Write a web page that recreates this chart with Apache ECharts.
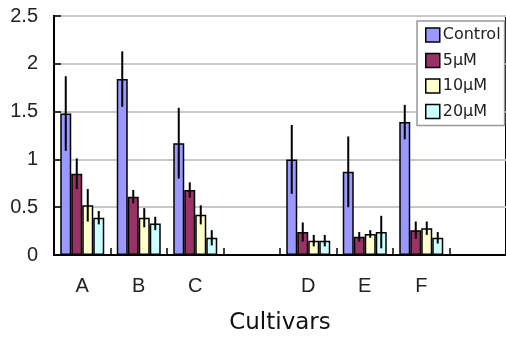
<!DOCTYPE html>
<html>
<head>
<meta charset="utf-8">
<script src="https://cdn.jsdelivr.net/npm/echarts@6/dist/echarts.min.js"></script>
<style>html,body{margin:0;padding:0;background:#fff;}#c{width:506px;height:340px;}</style>
</head>
<body>
<div id="c"></div>
<script>
const categories = ['A', 'B', 'C', '', 'D', 'E', 'F', ''];
const seriesNames = ['Control', '5\u03bcM', '10\u03bcM', '20\u03bcM'];
const control    = [1.48, 1.84, 1.17, null, 1.00, 0.87, 1.39, null];
const controlErr = [0.39, 0.29, 0.37, null, 0.36, 0.37, 0.18, null];
const uM5        = [0.85, 0.61, 0.68, null, 0.24, 0.19, 0.26, null];
const uM5Err     = [0.16, 0.07, 0.08, null, 0.10, 0.05, 0.09, null];
const uM10       = [0.52, 0.39, 0.42, null, 0.15, 0.22, 0.28, null];
const uM10Err    = [0.17, 0.10, 0.10, null, 0.06, 0.04, 0.07, null];
const uM20       = [0.39, 0.33, 0.18, null, 0.15, 0.24, 0.18, null];
const uM20Err    = [0.07, 0.07, 0.08, null, 0.06, 0.17, 0.06, null];
const yTicks = { min: 0, max: 2.5, interval: 0.5 };

const values = [control, uM5, uM10, uM20];
const errors = [controlErr, uM5Err, uM10Err, uM20Err];
const colors = ['#9999ff', '#993366', '#ffffcc', '#ccffff'];
const BAR_W = 11;

const chart = echarts.init(document.getElementById('c'), null, { renderer: 'canvas' });

const series = [];
values.forEach((vals, i) => {
  series.push({
    name: seriesNames[i],
    type: 'bar',
    data: vals,
    barWidth: BAR_W,
    barGap: '0%',
    itemStyle: { color: colors[i], borderColor: '#000', borderWidth: 1.5 },
    z: 2
  });
});
values.forEach((vals, i) => {
  const data = [];
  vals.forEach((v, k) => {
    if (v != null) data.push([k, v - errors[i][k], v + errors[i][k]]);
  });
  series.push({
    name: 'err' + i,
    type: 'custom',
    data: data,
    z: 5,
    renderItem: function (params, api) {
      const lo = api.coord([api.value(0), api.value(1)]);
      const hi = api.coord([api.value(0), api.value(2)]);
      const x = lo[0] + (i - 1.5) * BAR_W;
      return {
        type: 'line',
        shape: { x1: x, y1: lo[1], x2: x, y2: hi[1] },
        style: { stroke: '#000', lineWidth: 2 }
      };
    }
  });
});

chart.setOption({
  animation: false,
  backgroundColor: '#fff',
  grid: {
    left: 54, top: 16, right: -4, bottom: 84,
    show: true, borderColor: '#000', borderWidth: 2, backgroundColor: 'transparent'
  },
  legend: {
    data: seriesNames,
    orient: 'vertical',
    left: 417, top: 21,
    backgroundColor: '#fff',
    borderColor: '#999', borderWidth: 1.5,
    padding: [6, 4, 6, 8],
    itemWidth: 14, itemHeight: 14, itemGap: 9.5,
    icon: 'rect',
    itemStyle: { borderColor: '#000', borderWidth: 1.5 },
    textStyle: { fontFamily: 'DejaVu Sans', fontSize: 16, color: '#222', lineHeight: 14, padding: [0, 0, 0, -2] }
  },
  xAxis: {
    type: 'category',
    data: categories,
    boundaryGap: true,
    axisLine: { lineStyle: { color: '#000', width: 2 } },
    axisTick: { show: true, inside: true, length: 7, interval: 0, lineStyle: { color: '#000', width: 1.5 } },
    axisLabel: { interval: 0, margin: 21, fontFamily: 'Liberation Sans', fontSize: 20, color: '#222' },
    name: 'Cultivars',
    nameLocation: 'middle',
    nameGap: 57,
    nameTextStyle: { fontFamily: 'DejaVu Sans', fontSize: 23, color: '#111' }
  },
  yAxis: {
    type: 'value',
    min: yTicks.min, max: yTicks.max, interval: yTicks.interval,
    axisLine: { show: true, lineStyle: { color: '#000', width: 2 } },
    axisTick: { show: true, inside: true, length: 7, lineStyle: { color: '#000', width: 1.5 } },
    axisLabel: { margin: 16, fontFamily: 'Liberation Sans', fontSize: 20, color: '#222' },
    splitLine: { show: true, lineStyle: { color: '#c8c8c8', width: 2 } }
  },
  series: series
});
</script>
</body>
</html>
